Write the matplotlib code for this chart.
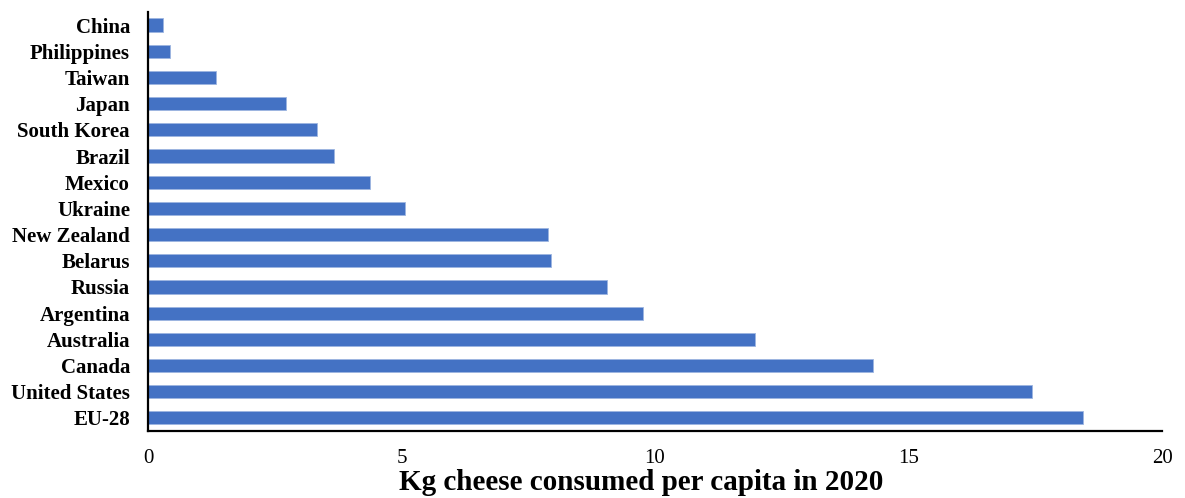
import matplotlib.pyplot as plt

# Per-capita cheese consumption, 2020 (kg)
countries = ['China', 'Philippines', 'Taiwan', 'Japan', 'South Korea', 'Brazil',
             'Mexico', 'Ukraine', 'New Zealand', 'Belarus', 'Russia', 'Argentina',
             'Australia', 'Canada', 'United States', 'EU-28']
kg_per_capita = [0.29, 0.43, 1.35, 2.73, 3.33, 3.66, 4.38, 5.06,
                 7.89, 7.95, 9.05, 9.77, 11.97, 14.29, 17.43, 18.45]

plt.rcParams['font.family'] = ['Liberation Serif', 'DejaVu Serif']

fig = plt.figure(figsize=(11.85, 4.98), dpi=100)
ax = fig.add_axes([0.1249, 0.1345, 0.8557, 0.8415])

ax.barh(range(len(countries)), kg_per_capita, height=0.5,
        color='#4472C4', edgecolor='#9DB5E0', linewidth=0.6)

ax.set_yticks(range(len(countries)))
ax.set_yticklabels(countries, fontsize=15, fontweight='bold')
ax.set_ylim(len(countries) - 0.5, -0.5)
ax.set_xlim(0, 20)
ax.set_xticks([0, 5, 10, 15, 20])
ax.tick_params(axis='x', length=0, pad=13, labelsize=15)
ax.tick_params(axis='y', length=0, pad=13)

for side in ['top', 'right']:
    ax.spines[side].set_visible(False)
for side in ['left', 'bottom']:
    ax.spines[side].set_linewidth(1.6)
    ax.spines[side].set_color('black')

ax.set_xlabel('Kg cheese consumed per capita in 2020', fontsize=21, fontweight='bold')
ax.xaxis.set_label_coords(0.486, -0.09)

fig.savefig('out.png', dpi=100)
